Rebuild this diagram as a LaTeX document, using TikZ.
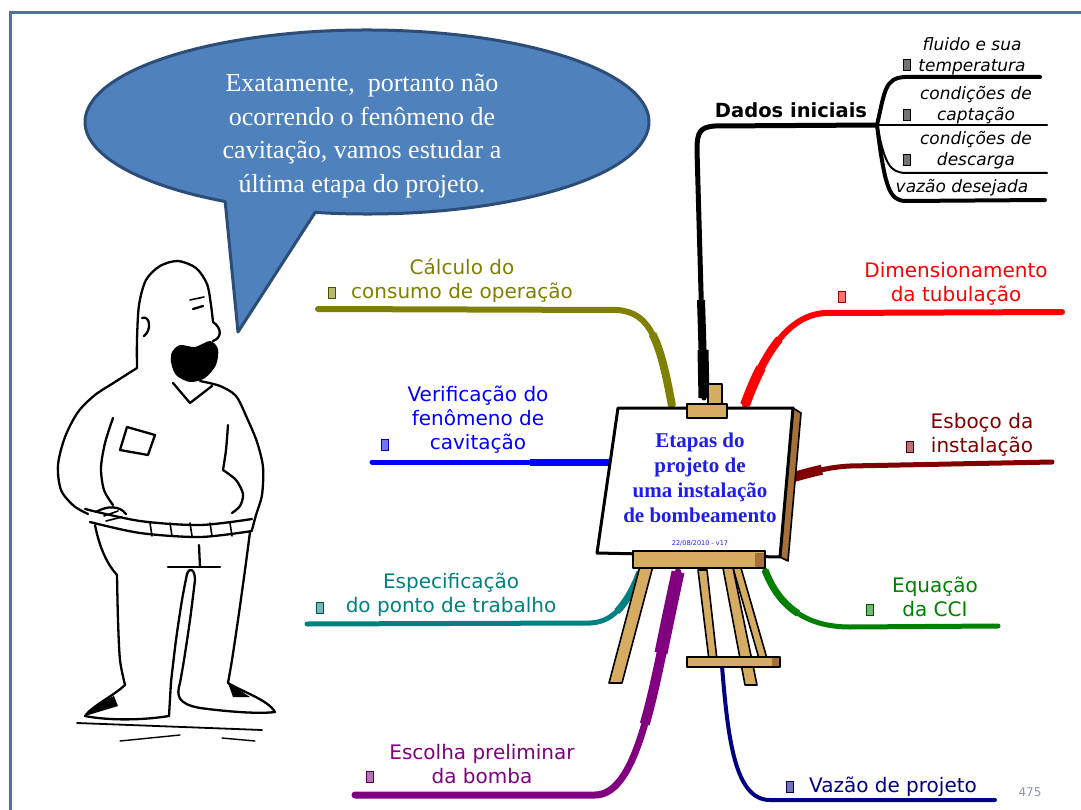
\documentclass[tikz,border=0pt]{standalone}
\usepackage{fontspec}
\setmainfont{DejaVu Sans}
\newfontfamily\bubblefont{Liberation Serif}
\newfontfamily\boardfont{Liberation Serif}
\usetikzlibrary{calc}
\definecolor{frameblue}{RGB}{79,113,168}
\definecolor{bubblefill}{RGB}{79,129,189}
\definecolor{bubbleedge}{RGB}{44,77,120}
\definecolor{olivebr}{RGB}{128,128,0}
\definecolor{tealbr}{RGB}{0,128,128}
\definecolor{purplebr}{RGB}{128,0,128}
\definecolor{navybr}{RGB}{0,0,128}
\definecolor{greenbr}{RGB}{0,128,0}
\definecolor{maroonbr}{RGB}{128,0,0}
\definecolor{redbr}{RGB}{255,0,0}
\definecolor{bluebr}{RGB}{0,0,255}
\definecolor{woodtan}{RGB}{214,172,98}
\definecolor{wooddark}{RGB}{165,112,58}
\definecolor{boardtext}{RGB}{30,30,230}
\definecolor{pagegray}{RGB}{140,150,170}
\begin{document}
\begin{tikzpicture}[x=1pt,y=-1pt,
  lbl/.style={font=\fontsize{20}{24}\selectfont, align=center, inner sep=0},
  sublbl/.style={font=\fontsize{17}{21}\selectfont\itshape, align=center, inner sep=0},
  icon/.style={draw=#1!60!black, fill=#1!55!white, line width=0.8, minimum width=7, minimum height=11, inner sep=0},
  branch/.style={line cap=round, line join=round},
  thickpart/.style={line cap=butt, line join=round},
  person/.style={line width=2.3, line cap=round, line join=round, black},
  wood/.style={fill=woodtan, draw=black, line width=1.6, line join=round},
]
\useasboundingbox (0,0) rectangle (1081,810);
\fill[white] (0,0) rectangle (1081,810);

% slide frame (open on the right and at the bottom)
\draw[frameblue, line width=3] (10,810) -- (10,13) -- (1081,13);

% ---------- speech bubble ----------
\filldraw[fill=bubblefill, draw=bubbleedge, line width=3, line join=round]
  ($(367,122)+(100.6:282 and 92)$)
  arc[start angle=100.6, end angle=-239.8, x radius=282, y radius=92]
  -- (238,332) -- cycle;
\node[font=\bubblefont\fontsize{26}{33.5}\selectfont, text=white, align=center, inner sep=0]
  (speech) at (362,136) {Exatamente,\ \ portanto não\\ocorrendo o fenômeno de\\cavitação, vamos estudar a\\última etapa do projeto.};

% ---------- branch anchor points ----------
\coordinate (dA) at (704,398);
\coordinate (dB) at (697,150);
\coordinate (dC) at (877,125);
\coordinate (s1) at (1040,77);
\coordinate (s2) at (1047,125);
\coordinate (s3) at (1047,173);
\coordinate (s4) at (1045,200);
\coordinate (rA) at (745,405);
\coordinate (rB) at (825,313);
\coordinate (rC) at (1062,312);
\coordinate (mA) at (790,478);
\coordinate (mB) at (1052,462);
\coordinate (gA) at (765,570);
\coordinate (gB) at (850,627);
\coordinate (gC) at (998,626);
\coordinate (nA) at (722,666);
\coordinate (nB) at (770,800);
\coordinate (nC) at (995,800);
\coordinate (pA) at (678,572);
\coordinate (pB) at (595,795);
\coordinate (pC) at (355,795);
\coordinate (tA) at (640,572);
\coordinate (tB) at (590,623);
\coordinate (tC) at (307,624);
\coordinate (bA) at (612,462);
\coordinate (bC) at (372,462);
\coordinate (oA) at (672,406);
\coordinate (oB) at (617,310);
\coordinate (oC) at (318,309);

% ---------- branches (thick near the easel, thinner outwards) ----------
% Dados iniciais (black) and its sub-branches
\draw[branch, black, line width=5] (dA) -- (dB) .. controls (697,132) and (700,127) .. (715,126) -- (dC);
\draw[thickpart, black, line width=8] (dA) -- (701,300);
\draw[thickpart, black, line width=11] (dA) -- (703,350);
\draw[branch, black, line width=4] (dC) .. controls (885,90) and (885,78) .. (905,77) -- (s1);
\draw[branch, black, line width=2] (dC) -- (s2);
\draw[branch, black, line width=2] (dC) .. controls (885,165) and (890,172) .. (905,173) -- (s3);
\draw[branch, black, line width=4] (dC) .. controls (885,190) and (890,200) .. (905,201) -- (s4);
% Dimensionamento da tubulação
\draw[branch, redbr, line width=6] (rA) .. controls (765,350) and (790,315) .. (rB) -- (rC);
\draw[thickpart, redbr, line width=8] (rA) .. controls (755,377.5) and (766.25,355) .. (779.4,339.1);
\draw[thickpart, redbr, line width=10] (rA) .. controls (750,391.25) and (755.3,378.75) .. (761,367.7);
% Esboço da instalação
\draw[branch, maroonbr, line width=5] (mA) .. controls (815,471) and (830,467) .. (850,466) -- (mB);
\draw[thickpart, maroonbr, line width=10] (mA) .. controls (802.5,474.5) and (812.5,471.75) .. (821.9,469.75);
% Equação da CCI
\draw[branch, greenbr, line width=5] (gA) .. controls (780,610) and (810,627) .. (gB) -- (gC);
\draw[thickpart, greenbr, line width=7] (gA) .. controls (772.5,590) and (783.75,604.25) .. (798.1,613.5);
% Vazão de projeto
\draw[branch, navybr, line width=4] (nA) .. controls (728,740) and (735,800) .. (nB) -- (nC);
% Escolha preliminar da bomba
\draw[branch, purplebr, line width=7] (pA) .. controls (655,680) and (640,795) .. (pB) -- (pC);
\draw[thickpart, purplebr, line width=10] (pA) .. controls (666.5,626) and (657,681.75) .. (644.75,724);
\draw[thickpart, purplebr, line width=13] (pA) .. controls (672.25,599) and (666.5,626) .. (661,653);
% Especificação do ponto de trabalho
\draw[branch, tealbr, line width=5] (tA) .. controls (625,610) and (610,622) .. (tB) -- (tC);
\draw[thickpart, tealbr, line width=7] (tA) .. controls (632.5,591) and (625,603.5) .. (616.9,611.4);
% Verificação do fenômeno de cavitação
\draw[branch, bluebr, line width=5] (bA) -- (bC);
\draw[thickpart, bluebr, line width=7] (bA) -- (530,462);
% Cálculo do consumo de operação
\draw[branch, olivebr, line width=6] (oA) .. controls (660,340) and (650,312) .. (oB) -- (oC);
\draw[thickpart, olivebr, line width=8] (oA) .. controls (666,373) and (660.5,349.5) .. (652.4,334);

% ---------- easel ----------
% legs
\filldraw[wood] (640,566) -- (653,566) -- (622,683) -- (609,683) -- cycle;
\filldraw[wood] (698,570) -- (707,570) -- (717,660) -- (709,660) -- cycle;
\filldraw[wood] (733,568) -- (741,568) -- (768,662) -- (760,662) -- cycle;
\filldraw[wood] (723,568) -- (733,568) -- (757,685) -- (745,685) -- cycle;
\filldraw[wood] (687,657) rectangle (780,667);
\fill[wooddark] (772,658) rectangle (779,666);
% mast top
\filldraw[wood] (708,384) rectangle (722,408);
% board with its brown edge
\filldraw[fill=wooddark, draw=black, line width=1.6, line join=round]
  (793,408) -- (801,413) -- (788,561) -- (780,557) -- cycle;
\filldraw[fill=white, draw=black, line width=3, line join=round]
  (618,408) -- (793,408) -- (780,557) -- (597,553) -- cycle;
% clamp and ledge
\filldraw[wood] (687,404) rectangle (727,418);
\filldraw[wood] (633,551) rectangle (765,568);
\fill[wooddark] (755,553) rectangle (764,567);

\node[font=\boardfont\bfseries\fontsize{21}{25}\selectfont, text=boardtext, align=center, inner sep=0]
  (center) at (700,478) {Etapas do\\projeto de\\uma instalação\\de bombeamento};
\node[font=\fontsize{6.5}{7}\selectfont, text=boardtext, inner sep=0] (date) at (700,543) {22/08/2010 - v17};

% ---------- labels ----------
\node[lbl, font=\bfseries\fontsize{19.5}{24}\selectfont] (dados) at (791,110) {Dados iniciais};
\node[sublbl] (fluido) at (972,56) {fluido e sua\\temperatura};
\node[sublbl] (capt) at (976,105) {condições de\\captação};
\node[sublbl] (desc) at (976,150) {condições de\\descarga};
\node[sublbl] (vazd) at (962,188) {vazão desejada};
\node[icon=black] (i1) at (907,65) {};
\node[icon=black] (i2) at (907,115) {};
\node[icon=black] (i3) at (907,160) {};

\node[lbl, text=redbr] (dimen) at (956,284) {Dimensionamento\\da tubulação};
\node[icon=redbr] (i4) at (842,297) {};
\node[lbl, text=maroonbr] (esboco) at (982,435) {Esboço da\\instalação};
\node[icon=maroonbr] (i5) at (910,447) {};
\node[lbl, text=greenbr] (cci) at (935,597) {Equação\\da CCI};
\node[icon=greenbr] (i6) at (870,610) {};
\node[lbl, text=navybr] (vazp) at (893,787) {Vazão de projeto};
\node[icon=navybr] (i7) at (790,787) {};
\node[lbl, text=purplebr] (escolha) at (482,764) {Escolha preliminar\\da bomba};
\node[icon=purplebr] (i8) at (370,777) {};
\node[lbl, text=tealbr] (espec) at (451,595) {Especificação\\do ponto de trabalho};
\node[icon=tealbr] (i9) at (320,608) {};
\node[lbl, text=bluebr] (verif) at (478,420) {Verificação do\\fenômeno de\\cavitação};
\node[icon=bluebr] (i10) at (385,445) {};
\node[lbl, text=olivebr] (calc) at (462,281) {Cálculo do\\consumo de operação};
\node[icon=olivebr] (i11) at (332,293) {};

\node[font=\fontsize{12}{14}\selectfont, text=pagegray, inner sep=0] (page) at (1030,792) {475};

% ---------- the man ----------
% head
\draw[person] plot[smooth] coordinates {(137,368) (137,340) (139,305) (146,280) (160,266) (178,261) (196,268) (207,284) (211,305) (213,322)};
\draw[person] (213,322) .. controls (222,328) and (222,338) .. (213,341);
\draw[person] (193,309) -- (203,306);
\draw[person, line width=1.6] (190,300) -- (204,297);
\draw[person] (142,318) .. controls (150,315) and (152,330) .. (144,336);
\fill[black] plot[smooth cycle] coordinates {(172,352) (180,345) (195,347) (210,341) (218,349) (216,365) (205,378) (190,382) (176,375) (171,362)};
% torso and arms
\draw[person] plot[smooth] coordinates {(137,368) (115,382) (95,395) (78,412) (65,437) (58,465) (61,490) (74,506) (88,514)};
\draw[person] plot[smooth] coordinates {(113,418) (105,443) (101,468) (104,490) (113,505)};
\draw[person] plot[smooth] coordinates {(200,381) (220,386) (236,396) (247,418) (257,442) (263,467) (262,495) (256,515) (252,530)};
\draw[person] plot[smooth] coordinates {(228,425) (226,450) (223,470)};
\draw[person] plot[smooth] coordinates {(223,470) (236,480) (243,494) (240,506) (232,513)};
\draw[person] (173,383) -- (190,403) -- (212,386);
\draw[person] (127,427) -- (155,435) -- (148,455) -- (120,450) -- cycle;
% belt and hand
\draw[person] plot[smooth] coordinates {(85,509) (140,521) (200,525) (252,519)};
\draw[person] plot[smooth] coordinates {(90,522) (140,533) (200,537) (252,531)};
\foreach \bx in {150,170,190,210,230}{\draw[person, line width=1.6] (\bx,523) -- (\bx+2,536);}
\draw[person] (96,512) .. controls (108,505) and (120,506) .. (126,514);
\draw[person, line width=1.6] (104,516) -- (118,511);
\draw[person, line width=1.6] (106,521) -- (122,517);
% legs
\draw[person] (95,525) .. controls (100,550) and (108,565) .. (117,575);
\draw[person] plot[smooth] coordinates {(117,575) (118,620) (120,660) (125,685)};
\draw[person] plot[smooth] coordinates {(187,574) (182,600) (176,640) (171,682)};
\draw[person] (187,574) .. controls (190,566) and (195,570) .. (195,580);
\draw[person] plot[smooth] coordinates {(195,580) (190,620) (184,660) (180,683)};
\draw[person] plot[smooth] coordinates {(250,532) (245,570) (238,620) (232,660) (228,683)};
\draw[person] (199,545) -- (200,567);
\draw[person] (168,567) -- (220,567);
% shoes
\filldraw[person, fill=white] (125,685) .. controls (112,697) and (92,706) .. (85,716)
  .. controls (110,721) and (145,720) .. (169,716) -- (171,682);
\fill[black] (85,716) .. controls (92,706) and (105,700) .. (114,696) -- (118,706) -- cycle;
\filldraw[person, fill=white] (180,683) .. controls (176,696) and (178,704) .. (200,708)
  .. controls (230,712) and (260,714) .. (275,712) .. controls (268,700) and (245,693) .. (228,683);
\fill[black] (228,683) .. controls (240,690) and (245,694) .. (250,697) -- (233,697) -- cycle;
% ground strokes
\draw[person, line width=1.8] (77,723) -- (262,730);
\draw[person, line width=1.4] (120,741) -- (180,735);
\draw[person, line width=1.4] (222,738) -- (255,741);
\end{tikzpicture}
\end{document}
